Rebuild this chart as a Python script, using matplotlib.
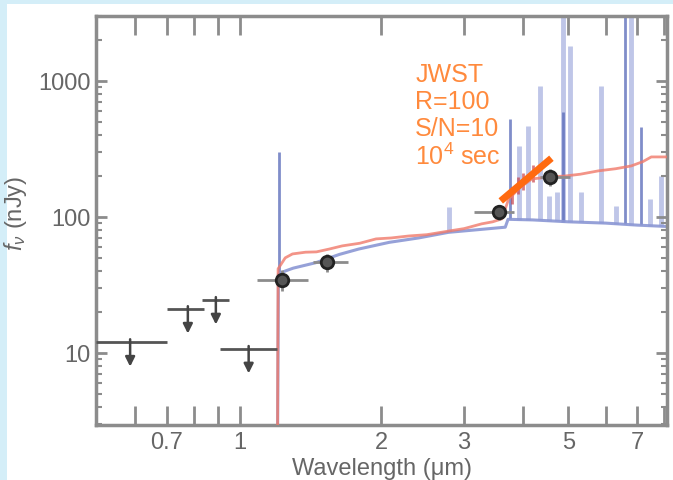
import numpy as np
import matplotlib.pyplot as plt
from matplotlib import font_manager
from matplotlib.patches import Rectangle
from matplotlib.ticker import FixedLocator, FixedFormatter, NullLocator

# --- fonts: narrow sans if we have it ---
installed = {f.name for f in font_manager.fontManager.ttflist}
FONT = 'Liberation Sans Narrow' if 'Liberation Sans Narrow' in installed else 'Liberation Sans'
plt.rcParams['font.family'] = [FONT, 'DejaVu Sans']
plt.rcParams['mathtext.fontset'] = 'custom'
plt.rcParams['mathtext.rm'] = FONT
plt.rcParams['mathtext.it'] = FONT + ':italic'

# --- data ---
# upper limits (non-detections)
lim_wl = [0.585, 0.776, 0.89, 1.045]
lim_flux = [12.0, 21.0, 24.5, 10.7]
lim_wl_lo = [0.495, 0.70, 0.83, 0.91]
lim_wl_hi = [0.70, 0.84, 0.95, 1.20]

# detections
det_wl = [1.23, 1.535, 3.56, 4.56]
det_flux = [34.4, 46.6, 109.0, 197.0]
det_wl_lo = [1.09, 1.43, 3.15, 4.35]
det_wl_hi = [1.40, 1.70, 3.83, 5.05]
det_flux_err = [6.0, 7.0, 14.0, 28.0]

# red model SED
red_wl = [1.204, 1.207, 1.25, 1.295, 1.38, 1.456, 1.55, 1.652, 1.80, 1.95, 2.10, 2.29,
          2.50, 2.79, 3.00, 3.27, 3.45, 3.61, 3.73, 3.95, 4.18, 4.50, 4.93, 5.30, 5.79,
          6.30, 6.80, 7.20, 7.50, 8.10]
red_flux = [2.5, 41.5, 50.0, 53.4, 55.0, 55.3, 58.0, 61.2, 64.0, 68.9, 70.0, 72.4,
            74.0, 78.8, 82.0, 88.9, 92.0, 96.7, 135.0, 165.0, 190.0, 196.0, 200.0, 206.0, 218.0,
            226.0, 237.0, 255.0, 276.0, 276.0]
# red model lines under the JWST segment
red_line_wl = [3.80, 3.90, 4.00, 4.20]
red_line_peak = [165.0, 195.0, 210.0, 240.0]

# blue model continuum
blue_wl = [1.204, 1.209, 1.25, 1.30, 1.45, 1.63, 1.79, 2.08, 2.40, 2.78, 3.27, 3.67,
           3.72, 4.2, 5.0, 6.0, 7.0, 8.1]
blue_flux = [2.5, 38.0, 40.0, 42.0, 46.0, 53.0, 58.0, 65.0, 70.0, 77.0, 81.0, 84.0,
             96.0, 95.0, 92.0, 90.0, 87.0, 85.0]

# blue model emission lines (wavelength, peak flux)
line_strong_wl = [1.215, 3.75, 4.88, 6.60, 7.13]
line_strong_peak = [300.0, 525.0, 590.0, 4000.0, 460.0]
line_faint_wl = [2.78, 3.92, 4.11, 4.36, 4.54, 4.72, 4.88, 5.05, 5.32, 5.87, 6.30,
                 6.80, 7.47, 7.85]
line_faint_peak = [118.0, 333.0, 465.0, 915.0, 143.0, 152.0, 4000.0, 1800.0, 152.0,
                   915.0, 120.0, 4000.0, 135.0, 200.0]

# JWST R=100 spectrum segment
jwst_wl = [3.59, 4.6]
jwst_flux = [131.0, 270.0]

# axis ticks
x_ticks = [0.6, 0.7, 0.8, 0.9, 1, 2, 3, 4, 5, 6, 7, 8]
x_labels = ['', '0.7', '', '', '1', '2', '3', '', '5', '', '7', '']
y_ticks = [10, 100, 1000]
y_labels = ['10', '100', '1000']

GRAY = '#8c8c8c'
ARROW_FACTOR = 0.63

fig = plt.figure(figsize=(6.73, 4.81), dpi=100)
fig.patch.set_facecolor('#d4eef8')
fig.patches.append(Rectangle((7 / 673, 0), 1, 476 / 481, transform=fig.transFigure,
                             facecolor='white', edgecolor='none', zorder=-10))
ax = fig.add_axes([96 / 673, 55 / 481, 571 / 673, 409 / 481])
ax.set_facecolor('white')

ax.set_xscale('log')
ax.set_yscale('log')
ax.set_xlim(0.495, 8.1)
ax.set_ylim(2.95, 3000)

# blue model: continuum + lines
blue_interp = lambda w: np.interp(w, blue_wl, blue_flux)
ax.vlines(line_faint_wl, blue_interp(line_faint_wl), line_faint_peak,
          color='#b4bce4', lw=3.5, alpha=0.85, zorder=1)
ax.vlines(line_strong_wl, blue_interp(line_strong_wl), line_strong_peak,
          color='#5567b8', lw=2, alpha=0.75, zorder=2)
ax.plot(blue_wl, blue_flux, color='#8b97d4', lw=2.2, alpha=0.9, zorder=2)

# red model
ax.vlines(red_line_wl, np.array(red_line_peak) * 0.75, red_line_peak,
          color='#c8404a', lw=2, alpha=0.7, zorder=3)
ax.plot(red_wl, red_flux, color='#f07a6a', lw=2, alpha=0.8, zorder=3)

# JWST spectrum
ax.plot(jwst_wl, jwst_flux, color='#ff6a10', lw=5, solid_capstyle='butt', zorder=4)

# upper limits
ax.hlines(lim_flux, lim_wl_lo, lim_wl_hi, color='#555555', lw=2, zorder=5)
for w, f in zip(lim_wl, lim_flux):
    ax.annotate('', xy=(w, f * ARROW_FACTOR), xytext=(w, f * 1.1),
                arrowprops=dict(arrowstyle='-|>', color='#444444', lw=1.8, mutation_scale=14),
                zorder=5)

# detections
det_wl = np.array(det_wl)
xerr = [det_wl - np.array(det_wl_lo), np.array(det_wl_hi) - det_wl]
ax.errorbar(det_wl, det_flux, xerr=xerr, yerr=det_flux_err, fmt='o', ecolor=GRAY,
            elinewidth=2, capsize=0, mfc='#555555', mec='#222222', ms=9, mew=2, zorder=6)

# JWST annotation
ax.text(2.36, 1380, 'JWST\nR=100\nS/N=10\n10$^4$ sec', color='#ff8a3d', fontsize=18,
        ha='left', va='top', linespacing=1.15)

# ticks and spines
ax.xaxis.set_major_locator(FixedLocator(x_ticks))
ax.xaxis.set_major_formatter(FixedFormatter(x_labels))
ax.xaxis.set_minor_locator(NullLocator())
ax.set_yticks(y_ticks, y_labels)
ax.tick_params(axis='x', which='major', direction='in', length=14, width=2, color=GRAY,
               top=True, labelcolor='#666666', labelsize=17, pad=4)
ax.tick_params(axis='y', which='major', direction='in', length=8, width=2, color=GRAY,
               right=True, labelcolor='#666666', labelsize=17, pad=4)
ax.tick_params(axis='y', which='minor', direction='in', length=4, width=1.5, color=GRAY,
               right=True)
for s in ax.spines.values():
    s.set_color(GRAY)
    s.set_linewidth(2.5)

ax.set_xlabel('Wavelength (μm)', fontsize=17, color='#666666', labelpad=3)
ax.set_ylabel('$f_\\nu$ (nJy)', fontsize=17, color='#666666')
ax.yaxis.set_label_coords(-0.117, 0.52)

fig.savefig('out.png', dpi=100, facecolor=fig.get_facecolor())
